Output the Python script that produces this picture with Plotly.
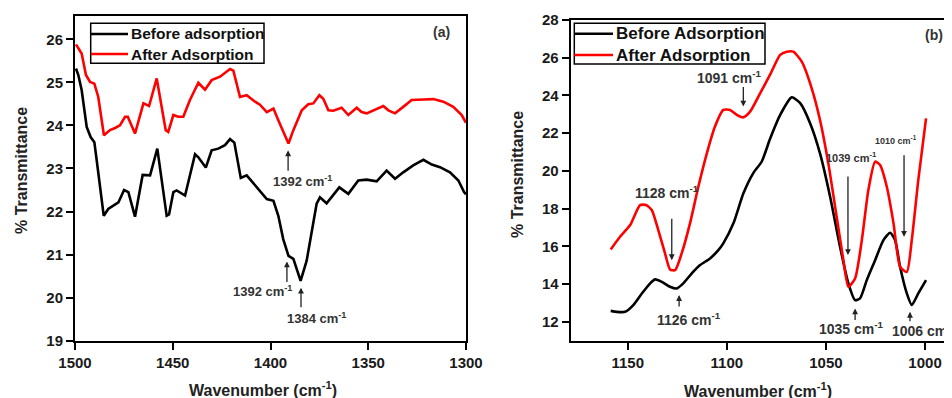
import plotly.graph_objects as go

# ---------------- Data: panel (a) ----------------
a_before_wn = [1499.5, 1498.3, 1496.6, 1494.0, 1492.0, 1490.1, 1488.9, 1487.2, 1485.3, 1483.0,
               1477.8, 1474.9, 1472.7, 1469.3, 1465.4, 1461.6, 1457.9, 1453.1, 1451.9, 1449.7,
               1448.0, 1443.7, 1438.6, 1436.9, 1433.1, 1430.1, 1426.7, 1423.3, 1420.7, 1418.5,
               1415.2, 1412.2, 1407.1, 1401.9, 1398.5, 1396.0, 1393.5, 1390.8, 1388.3, 1384.6,
               1381.5, 1378.9, 1376.4, 1374.7, 1371.3, 1364.8, 1360.2, 1355.1, 1350.8, 1345.7,
               1340.6, 1336.3, 1332.1, 1327.0, 1321.8, 1317.5, 1313.3, 1308.2, 1303.9, 1301.0,
               1300.0]
a_before_T = [25.32, 25.17, 24.82, 23.96, 23.73, 23.61, 23.19, 22.55, 21.90, 22.06,
              22.21, 22.50, 22.45, 21.88, 22.85, 22.84, 23.46, 21.90, 21.93, 22.45,
              22.49, 22.37, 23.33, 23.26, 23.02, 23.42, 23.46, 23.54, 23.68, 23.60,
              22.78, 22.84, 22.56, 22.29, 22.25, 21.90, 21.36, 20.97, 20.90, 20.39,
              20.86, 21.55, 22.18, 22.33, 22.19, 22.56, 22.41, 22.72, 22.74, 22.70,
              22.95, 22.76, 22.91, 23.07, 23.20, 23.09, 23.03, 22.91, 22.72, 22.45,
              22.40]

a_after_wn = [1499.5, 1496.6, 1494.4, 1492.3, 1490.1, 1488.1, 1485.2, 1482.1, 1479.5, 1477.0,
              1474.4, 1473.0, 1469.3, 1465.0, 1462.1, 1458.2, 1453.6, 1452.3, 1449.7, 1447.2,
              1444.6, 1441.2, 1436.9, 1433.5, 1430.1, 1425.8, 1420.7, 1419.0, 1415.6, 1412.2,
              1407.9, 1405.4, 1401.9, 1398.5, 1396.0, 1390.8, 1388.3, 1384.0, 1380.7, 1378.1,
              1375.0, 1373.0, 1370.4, 1367.9, 1363.6, 1360.2, 1355.9, 1353.4, 1350.8, 1347.4,
              1342.3, 1339.7, 1336.3, 1332.1, 1327.8, 1321.8, 1316.7, 1311.6, 1306.5, 1302.2,
              1300.0]
a_after_T = [25.88, 25.67, 25.17, 25.01, 24.97, 24.66, 23.77, 23.89, 23.94, 24.00,
             24.20, 24.20, 23.81, 24.51, 24.45, 25.09, 23.89, 23.85, 24.24, 24.20,
             24.20, 24.59, 24.99, 24.83, 25.05, 25.13, 25.31, 25.27, 24.66, 24.70,
             24.55, 24.48, 24.31, 24.39, 24.12, 23.58, 23.89, 24.35, 24.49, 24.51,
             24.70, 24.62, 24.35, 24.34, 24.41, 24.24, 24.41, 24.31, 24.28, 24.35,
             24.45, 24.35, 24.28, 24.43, 24.59, 24.60, 24.61, 24.55, 24.43, 24.24,
             24.06]

# ---------------- Data: panel (b) ----------------
b_before_wn = [1158.6, 1155.6, 1151.4, 1147.2, 1142.9, 1138.7, 1136.2, 1132.8, 1128.7, 1125.3,
               1122.0, 1117.7, 1113.5, 1108.5, 1104.3, 1101.8, 1096.7, 1091.7, 1086.6, 1082.4,
               1078.2, 1073.1, 1067.3, 1063.0, 1058.0, 1053.0, 1047.9, 1042.9, 1038.7, 1035.3,
               1032.8, 1029.4, 1025.2, 1021.0, 1017.6, 1015.1, 1012.6, 1009.2, 1006.7, 1003.4,
               999.5]
b_before_T = [12.58, 12.53, 12.53, 12.89, 13.50, 14.04, 14.25, 14.12, 13.86, 13.77,
              14.04, 14.57, 15.01, 15.36, 15.80, 16.16, 17.22, 18.80, 19.90, 20.50,
              21.70, 22.97, 23.90, 23.59, 22.53, 20.93, 18.63, 15.98, 14.04, 13.15,
              13.24, 14.21, 15.27, 16.33, 16.72, 16.33, 14.92, 13.51, 12.89, 13.51,
              14.21]

b_after_wn = [1158.6, 1153.9, 1148.8, 1143.8, 1140.8, 1137.9, 1134.6, 1131.2, 1128.7, 1126.1,
              1122.8, 1118.6, 1114.4, 1110.1, 1106.0, 1101.8, 1098.4, 1095.0, 1091.7, 1088.3,
              1083.3, 1078.2, 1073.1, 1069.8, 1066.5, 1062.2, 1057.2, 1053.0, 1048.8, 1044.6,
              1041.2, 1038.7, 1035.3, 1031.9, 1028.6, 1025.2, 1022.7, 1019.3, 1015.9, 1012.6,
              1009.2, 1006.7, 1003.4, 999.5]
b_after_T = [15.84, 16.51, 17.13, 18.19, 18.19, 17.93, 16.86, 15.63, 14.78, 14.74,
             15.63, 17.22, 19.16, 20.93, 22.35, 23.23, 23.23, 22.97, 22.84, 23.14,
             24.10, 25.10, 26.15, 26.32, 26.32, 25.79, 24.38, 22.70, 20.40, 17.57,
             15.27, 13.86, 14.30, 16.33, 18.99, 20.49, 20.31, 19.16, 17.22, 14.92,
             14.65, 16.33, 19.52, 22.79]

a_ticks = [1500, 1450, 1400, 1350, 1300]
a_yticks = [19, 20, 21, 22, 23, 24, 25, 26]
b_ticks = [1150, 1100, 1050, 1000]
b_yticks = [12, 14, 16, 18, 20, 22, 24, 26, 28]

a_names = ["Before adsorption", "After Adsorption"]
b_names = ["Before Adsorption", "After Adsorption"]
colors = ["#000000", "#ff0000"]

FONT = "Liberation Sans, Arial, sans-serif"
# the page body has an 8px margin; the figure is sized/offset so the view matches 952x398
OFF = 8
W, H = 952 - OFF, 398 - OFF


def fx(v):
    return (v - OFF) / W


def fy(v):
    return (H - (v - OFF)) / H


fig = go.Figure()

fig.add_trace(go.Scatter(x=a_before_wn, y=a_before_T, mode="lines", name=a_names[0],
                         line=dict(color=colors[0], width=2.6), xaxis="x", yaxis="y", showlegend=False))
fig.add_trace(go.Scatter(x=a_after_wn, y=a_after_T, mode="lines", name=a_names[1],
                         line=dict(color=colors[1], width=2.6), xaxis="x", yaxis="y", showlegend=False))
fig.add_trace(go.Scatter(x=b_before_wn, y=b_before_T, mode="lines", name=b_names[0],
                         line=dict(color=colors[0], width=2.6, shape="spline", smoothing=0.6),
                         xaxis="x2", yaxis="y2", showlegend=False))
fig.add_trace(go.Scatter(x=b_after_wn, y=b_after_T, mode="lines", name=b_names[1],
                         line=dict(color=colors[1], width=2.6, shape="spline", smoothing=0.6),
                         xaxis="x2", yaxis="y2", showlegend=False))

tickfont = dict(family=FONT, size=15, color="#1a1a1a", weight="bold")
axis_common = dict(showgrid=False, zeroline=False, showline=True, linecolor="#000000", linewidth=2,
                   ticks="outside", ticklen=7, tickwidth=2, tickcolor="#000000", tickfont=tickfont,
                   automargin=False)

fig.update_layout(
    width=W, height=H,
    margin=dict(l=0, r=0, t=0, b=0, autoexpand=False),
    paper_bgcolor="white", plot_bgcolor="white",
    showlegend=False,
    xaxis=dict(domain=[fx(75), fx(466)], range=[1500, 1300], tickvals=a_ticks,
               mirror=True, anchor="y", **axis_common),
    yaxis=dict(domain=[fy(340.7), fy(16)], range=[19, 26.54], tickvals=a_yticks,
               mirror=True, anchor="x", **axis_common),
    xaxis2=dict(domain=[fx(570.7), 1.0], range=[1178.8, 986.4], tickvals=b_ticks,
                mirror=True, anchor="y2", **axis_common),
    yaxis2=dict(domain=[fy(340.7), fy(20)], range=[11, 28], tickvals=b_yticks,
                mirror=False, anchor="x2", **axis_common),
)

shapes = []
ann = []

# ---- legends drawn as boxes + line samples + text ----
def legend_box(x0, x1, y0, y1, line_x0, line_x1, rows, names, size):
    shapes.append(dict(type="rect", xref="paper", yref="paper", x0=fx(x0), x1=fx(x1),
                       y0=fy(y1), y1=fy(y0), line=dict(color="#000000", width=1.5),
                       fillcolor="white", layer="above"))
    for ry, name, col in zip(rows, names, colors):
        shapes.append(dict(type="line", xref="paper", yref="paper", x0=fx(line_x0), x1=fx(line_x1),
                           y0=fy(ry), y1=fy(ry), line=dict(color=col, width=2.6), layer="above"))
        ann.append(dict(xref="paper", yref="paper", x=fx(line_x1 + 0.5), y=fy(ry), text=name,
                        showarrow=False, xanchor="left", yanchor="middle",
                        font=dict(family=FONT, size=size, color="#111111", weight="bold")))

legend_box(90.7, 264, 23.3, 63.3, 91, 128, [34, 54], a_names, 15.5)
legend_box(574.3, 765, 23.3, 64, 574.3, 613, [33.7, 55], b_names, 17)

lbl_font = dict(family=FONT, size=13, color="#333333", weight="bold")


def arrow(xr, yr, x, y, ay):
    ann.append(dict(xref=xr, yref=yr, x=x, y=y, ax=0, ay=ay, text="", showarrow=True,
                    arrowhead=2, arrowsize=0.9, arrowwidth=1.3, arrowcolor="#222222",
                    standoff=0, startstandoff=0))


def label(xr, yr, x, y, text, size=13, xanchor="center"):
    f = dict(lbl_font)
    f["size"] = size
    ann.append(dict(xref=xr, yref=yr, x=x, y=y, text=text, showarrow=False,
                    font=f, xanchor=xanchor, yanchor="middle"))

# panel (a)
arrow("x", "y", 1391.0, 23.42, 22)
label("x", "y", 1383.4, 22.72, "1392 cm<sup>-1</sup>")
arrow("x", "y", 1391.6, 20.84, 22)
label("x", "y", 1404.3, 20.16, "1392 cm<sup>-1</sup>")
arrow("x", "y", 1384.4, 20.23, 21)
label("x", "y", 1376.7, 19.53, "1384 cm<sup>-1</sup>")
label("x", "y", 1312.3, 26.18, "(a)", size=14)

# panel (b)
arrow("x2", "y2", 1091.7, 23.41, -21)
label("x2", "y2", 1098.9, 25.0, "1091 cm<sup>-1</sup>", size=14)
arrow("x2", "y2", 1127.8, 15.27, -43)
label("x2", "y2", 1130.2, 18.9, "1128 cm<sup>-1</sup>", size=14)
arrow("x2", "y2", 1124.1, 13.42, 13)
label("x2", "y2", 1119.1, 12.13, "1126 cm<sup>-1</sup>", size=14)
arrow("x2", "y2", 1038.9, 15.54, -80)
label("x2", "y2", 1037.3, 20.75, "1039 cm<sup>-1</sup>", size=11)
arrow("x2", "y2", 1010.6, 16.51, -83)
label("x2", "y2", 1014.6, 21.64, "1010 cm<sup>-1</sup>", size=9)
arrow("x2", "y2", 1035.3, 12.71, 13)
label("x2", "y2", 1037.3, 11.65, "1035 cm<sup>-1</sup>", size=14)
arrow("x2", "y2", 1007.6, 12.53, 11)
label("x2", "y2", 1017.6, 11.56, "1006 cm<sup>-1</sup>", size=14, xanchor="left")
label("x2", "y2", 995.5, 27.21, "(b)", size=14)

# axis titles
title_font = dict(family=FONT, size=16, color="#222222", weight="bold")
ann.append(dict(xref="paper", yref="paper", x=fx(22), y=fy(171), text="% Transmittance",
                textangle=-90, showarrow=False, font=title_font, xanchor="center", yanchor="middle"))
ann.append(dict(xref="paper", yref="paper", x=fx(517), y=fy(174), text="% Transmittance",
                textangle=-90, showarrow=False, font=title_font, xanchor="center", yanchor="middle"))
ann.append(dict(xref="paper", yref="paper", x=fx(263), y=fy(389), text="Wavenumber (cm<sup>-1</sup>)",
                showarrow=False, font=title_font, xanchor="center", yanchor="middle"))
ann.append(dict(xref="paper", yref="paper", x=fx(758), y=fy(390), text="Wavenumber (cm<sup>-1</sup>)",
                showarrow=False, font=title_font, xanchor="center", yanchor="middle"))

fig.update_layout(annotations=ann, shapes=shapes)
fig.write_html("out.html")
